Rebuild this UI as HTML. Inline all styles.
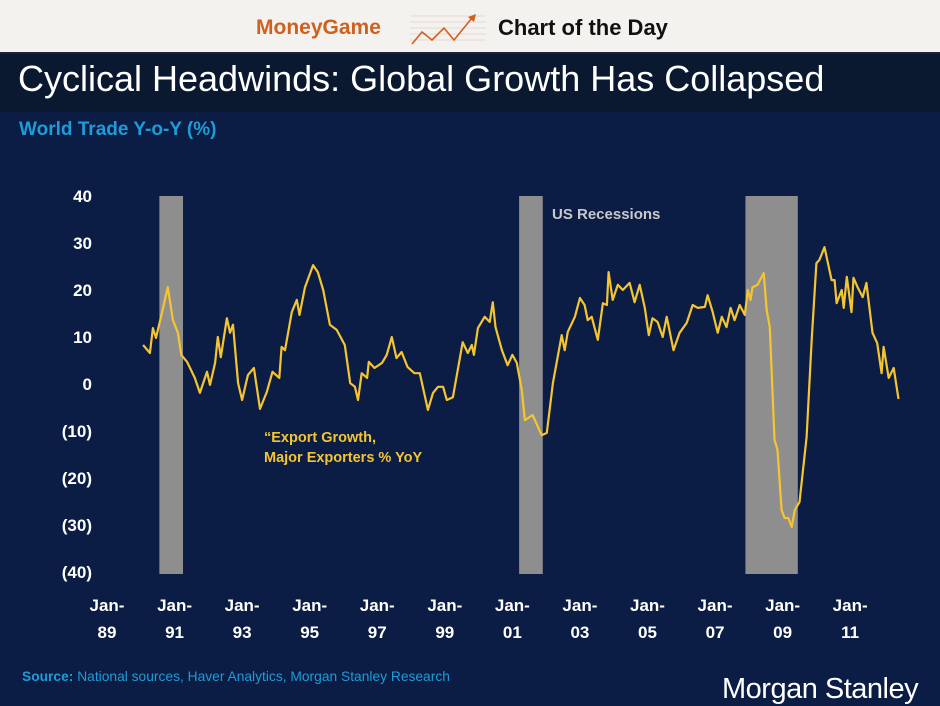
<!DOCTYPE html>
<html><head><meta charset="utf-8">
<style>
html,body{margin:0;padding:0;}
body{width:940px;height:705px;overflow:hidden;background:#0b1d44;font-family:"Liberation Sans",Arial,sans-serif;position:relative;}
.hdr{position:absolute;left:0;top:0;width:940px;height:52px;background:#f4f2ef;border-bottom:2px solid #1a2233;}
.tband{position:absolute;left:0;top:54px;width:940px;height:58px;background:#0a1830;}
</style></head>
<body>
<div class="hdr">
  <div style="position:absolute;left:256px;top:16px;font-size:21px;font-weight:bold;color:#d0601e;">MoneyGame</div>
  <svg style="position:absolute;left:408px;top:10px" width="80" height="38">
    <g stroke="#e8d8d0" stroke-width="1"><line x1="2" y1="6" x2="78" y2="6"/><line x1="2" y1="12" x2="78" y2="12"/><line x1="2" y1="18" x2="78" y2="18"/><line x1="2" y1="24" x2="78" y2="24"/><line x1="2" y1="30" x2="78" y2="30"/></g>
    <polyline points="4,34 14,22 24,30 36,18 46,30 64,8" fill="none" stroke="#d0601e" stroke-width="1.6"/>
    <polygon points="68,4 60,7 66,12" fill="#d0601e"/>
  </svg>
  <div style="position:absolute;left:498px;top:15px;font-size:22px;font-weight:bold;color:#111;">Chart of the Day</div>
</div>
<div class="tband"></div>
<div style="position:absolute;left:18px;top:58px;font-size:36px;color:#fff;white-space:nowrap;">Cyclical Headwinds: Global Growth Has Collapsed</div>
<div style="position:absolute;left:19px;top:119px;font-size:19px;font-weight:bold;color:#1e9cd7;">World Trade Y-o-Y (%)</div>
<svg id="chart" width="940" height="705" style="position:absolute;left:0;top:0"></svg>
<div style="position:absolute;left:22px;top:669px;font-size:13.8px;color:#1e9cd7;white-space:nowrap;"><b>Source:</b> National sources, Haver Analytics, Morgan Stanley Research</div>
<div style="position:absolute;left:722px;top:673px;font-size:29px;color:#fff;letter-spacing:-0.5px;white-space:nowrap;">Morgan Stanley</div>
<script>
const yTicks=[40,30,20,10,0,-10,-20,-30,-40];
const yTickLabels=["40","30","20","10","0","(10)","(20)","(30)","(40)"];
const xTickYears=[1989,1991,1993,1995,1997,1999,2001,2003,2005,2007,2009,2011];
const xTickLabels=["89","91","93","95","97","99","01","03","05","07","09","11"];
const recStart=[1990.55,2001.2,2007.9];
const recEnd=[1991.25,2001.9,2009.45];
const dates=[1990.07,1990.27,1990.36,1990.45,1990.66,1990.8,1990.95,1991.1,1991.2,1991.37,1991.6,1991.75,1991.96,1992.05,1992.2,1992.28,1992.37,1992.55,1992.64,1992.73,1992.88,1993.0,1993.17,1993.35,1993.53,1993.73,1993.9,1994.1,1994.17,1994.27,1994.47,1994.62,1994.7,1994.86,1995.1,1995.24,1995.4,1995.6,1995.8,1996.04,1996.2,1996.34,1996.43,1996.54,1996.7,1996.75,1996.92,1997.14,1997.28,1997.43,1997.57,1997.72,1997.9,1998.1,1998.26,1998.5,1998.65,1998.8,1998.95,1999.06,1999.24,1999.53,1999.68,1999.8,1999.86,1999.98,2000.18,2000.33,2000.42,2000.5,2000.69,2000.86,2001.0,2001.13,2001.28,2001.37,2001.6,2001.87,2002.02,2002.2,2002.46,2002.55,2002.64,2002.85,2003.0,2003.14,2003.23,2003.35,2003.53,2003.68,2003.8,2003.85,2003.97,2004.12,2004.27,2004.47,2004.62,2004.77,2004.92,2005.04,2005.15,2005.3,2005.45,2005.57,2005.77,2005.95,2006.16,2006.34,2006.49,2006.7,2006.78,2006.93,2007.08,2007.2,2007.34,2007.46,2007.58,2007.73,2007.88,2007.97,2008.05,2008.11,2008.26,2008.44,2008.53,2008.62,2008.76,2008.85,2008.97,2009.06,2009.17,2009.27,2009.36,2009.5,2009.71,2009.86,2010.0,2010.09,2010.24,2010.45,2010.54,2010.6,2010.75,2010.81,2010.9,2011.04,2011.1,2011.22,2011.37,2011.48,2011.66,2011.8,2011.93,2011.99,2012.14,2012.29,2012.43];
const values=[8.3,6.6,11.9,9.8,16.2,20.6,13.6,10.9,6.2,4.7,1.3,-1.9,2.6,-0.2,4.5,10,5.7,14,10.9,12.6,0.2,-3.4,1.9,3.4,-5.3,-1.7,2.6,1.3,7.9,7.2,15.3,17.9,14.7,20.6,25.3,23.8,20,12.6,11.5,8.3,0.2,-0.6,-3.4,2.3,1.3,4.7,3.4,4.5,6.2,10,5.5,6.8,3.6,2.3,2.3,-5.5,-1.9,-0.6,-0.6,-3.4,-2.8,8.9,6.6,8.3,6.2,11.9,14.3,13.2,17.4,12.1,7.2,4,6.2,4.5,-1.3,-7.7,-6.6,-10.9,-10.4,0.2,10.4,7.2,11.1,14.3,18.3,16.8,13.6,14.3,9.4,17.2,16.8,23.8,17.9,21.1,20,21.5,17.4,21.1,16.2,10.4,14,13.2,10,14.3,7.2,10.9,13,16.8,16.2,16.4,18.9,15.3,10.9,14.3,12.1,16.2,13.6,16.8,14.7,20,17.9,20.6,21.1,23.6,15.7,12.1,-11.9,-14,-26.8,-28.5,-28.5,-30.4,-26.8,-25.1,-11.3,9.4,25.7,26.4,29.1,22.1,22.1,17.2,20,16.2,22.8,15.3,22.6,20.6,18.5,21.5,10.9,8.7,2.3,7.9,1.3,3.4,-3.2];
const svg=document.getElementById('chart');
const NS='http://www.w3.org/2000/svg';
function xs(yr){return 107+(yr-1989)*33.78;}
function ys(v){return 384-v*4.7;}
function mk(tag,attrs){const e=document.createElementNS(NS,tag);for(const k in attrs)e.setAttribute(k,attrs[k]);svg.appendChild(e);return e;}
recStart.forEach((s,i)=>{
  const r=mk('rect',{x:xs(s),y:ys(40),width:xs(recEnd[i])-xs(s),height:ys(-40)-ys(40)+2,fill:'#8e8e8e'});
  
  
});
yTicks.forEach((v,i)=>{
  const t=mk('text',{x:92,y:ys(v)+6,'text-anchor':'end',fill:'#fff','font-size':17,'font-weight':'bold','font-family':'Liberation Sans, Arial, sans-serif'});
  t.textContent=yTickLabels[i];
  
  
});
xTickYears.forEach((yr,i)=>{
  const a=mk('text',{x:xs(yr),y:611,'text-anchor':'middle',fill:'#fff','font-size':17,'font-weight':'bold','font-family':'Liberation Sans, Arial, sans-serif'});
  a.textContent='Jan-';
  
  
  const b=mk('text',{x:xs(yr),y:638,'text-anchor':'middle',fill:'#fff','font-size':17,'font-weight':'bold','font-family':'Liberation Sans, Arial, sans-serif'});
  b.textContent=xTickLabels[i];
  
  
});
const pts=dates.map((d,i)=>xs(d).toFixed(1)+','+ys(values[i]).toFixed(1)).join(' ');
const line=mk('polyline',{points:pts,fill:'none',stroke:'#f5c531','stroke-width':2.2,'stroke-linejoin':'round'});


const l1=mk('text',{x:264,y:442,fill:'#f5c531','font-size':14.5,'font-weight':'bold','font-family':'Liberation Sans, Arial, sans-serif'});
l1.textContent='\u201CExport Growth,';


const l2=mk('text',{x:264,y:462,fill:'#f5c531','font-size':14.5,'font-weight':'bold','font-family':'Liberation Sans, Arial, sans-serif'});
l2.textContent='Major Exporters % YoY';


const rl=mk('text',{x:552,y:219,fill:'#c8c8cc','font-size':15,'font-weight':'bold','font-family':'Liberation Sans, Arial, sans-serif'});
rl.textContent='US Recessions';


</script>
</body></html>
